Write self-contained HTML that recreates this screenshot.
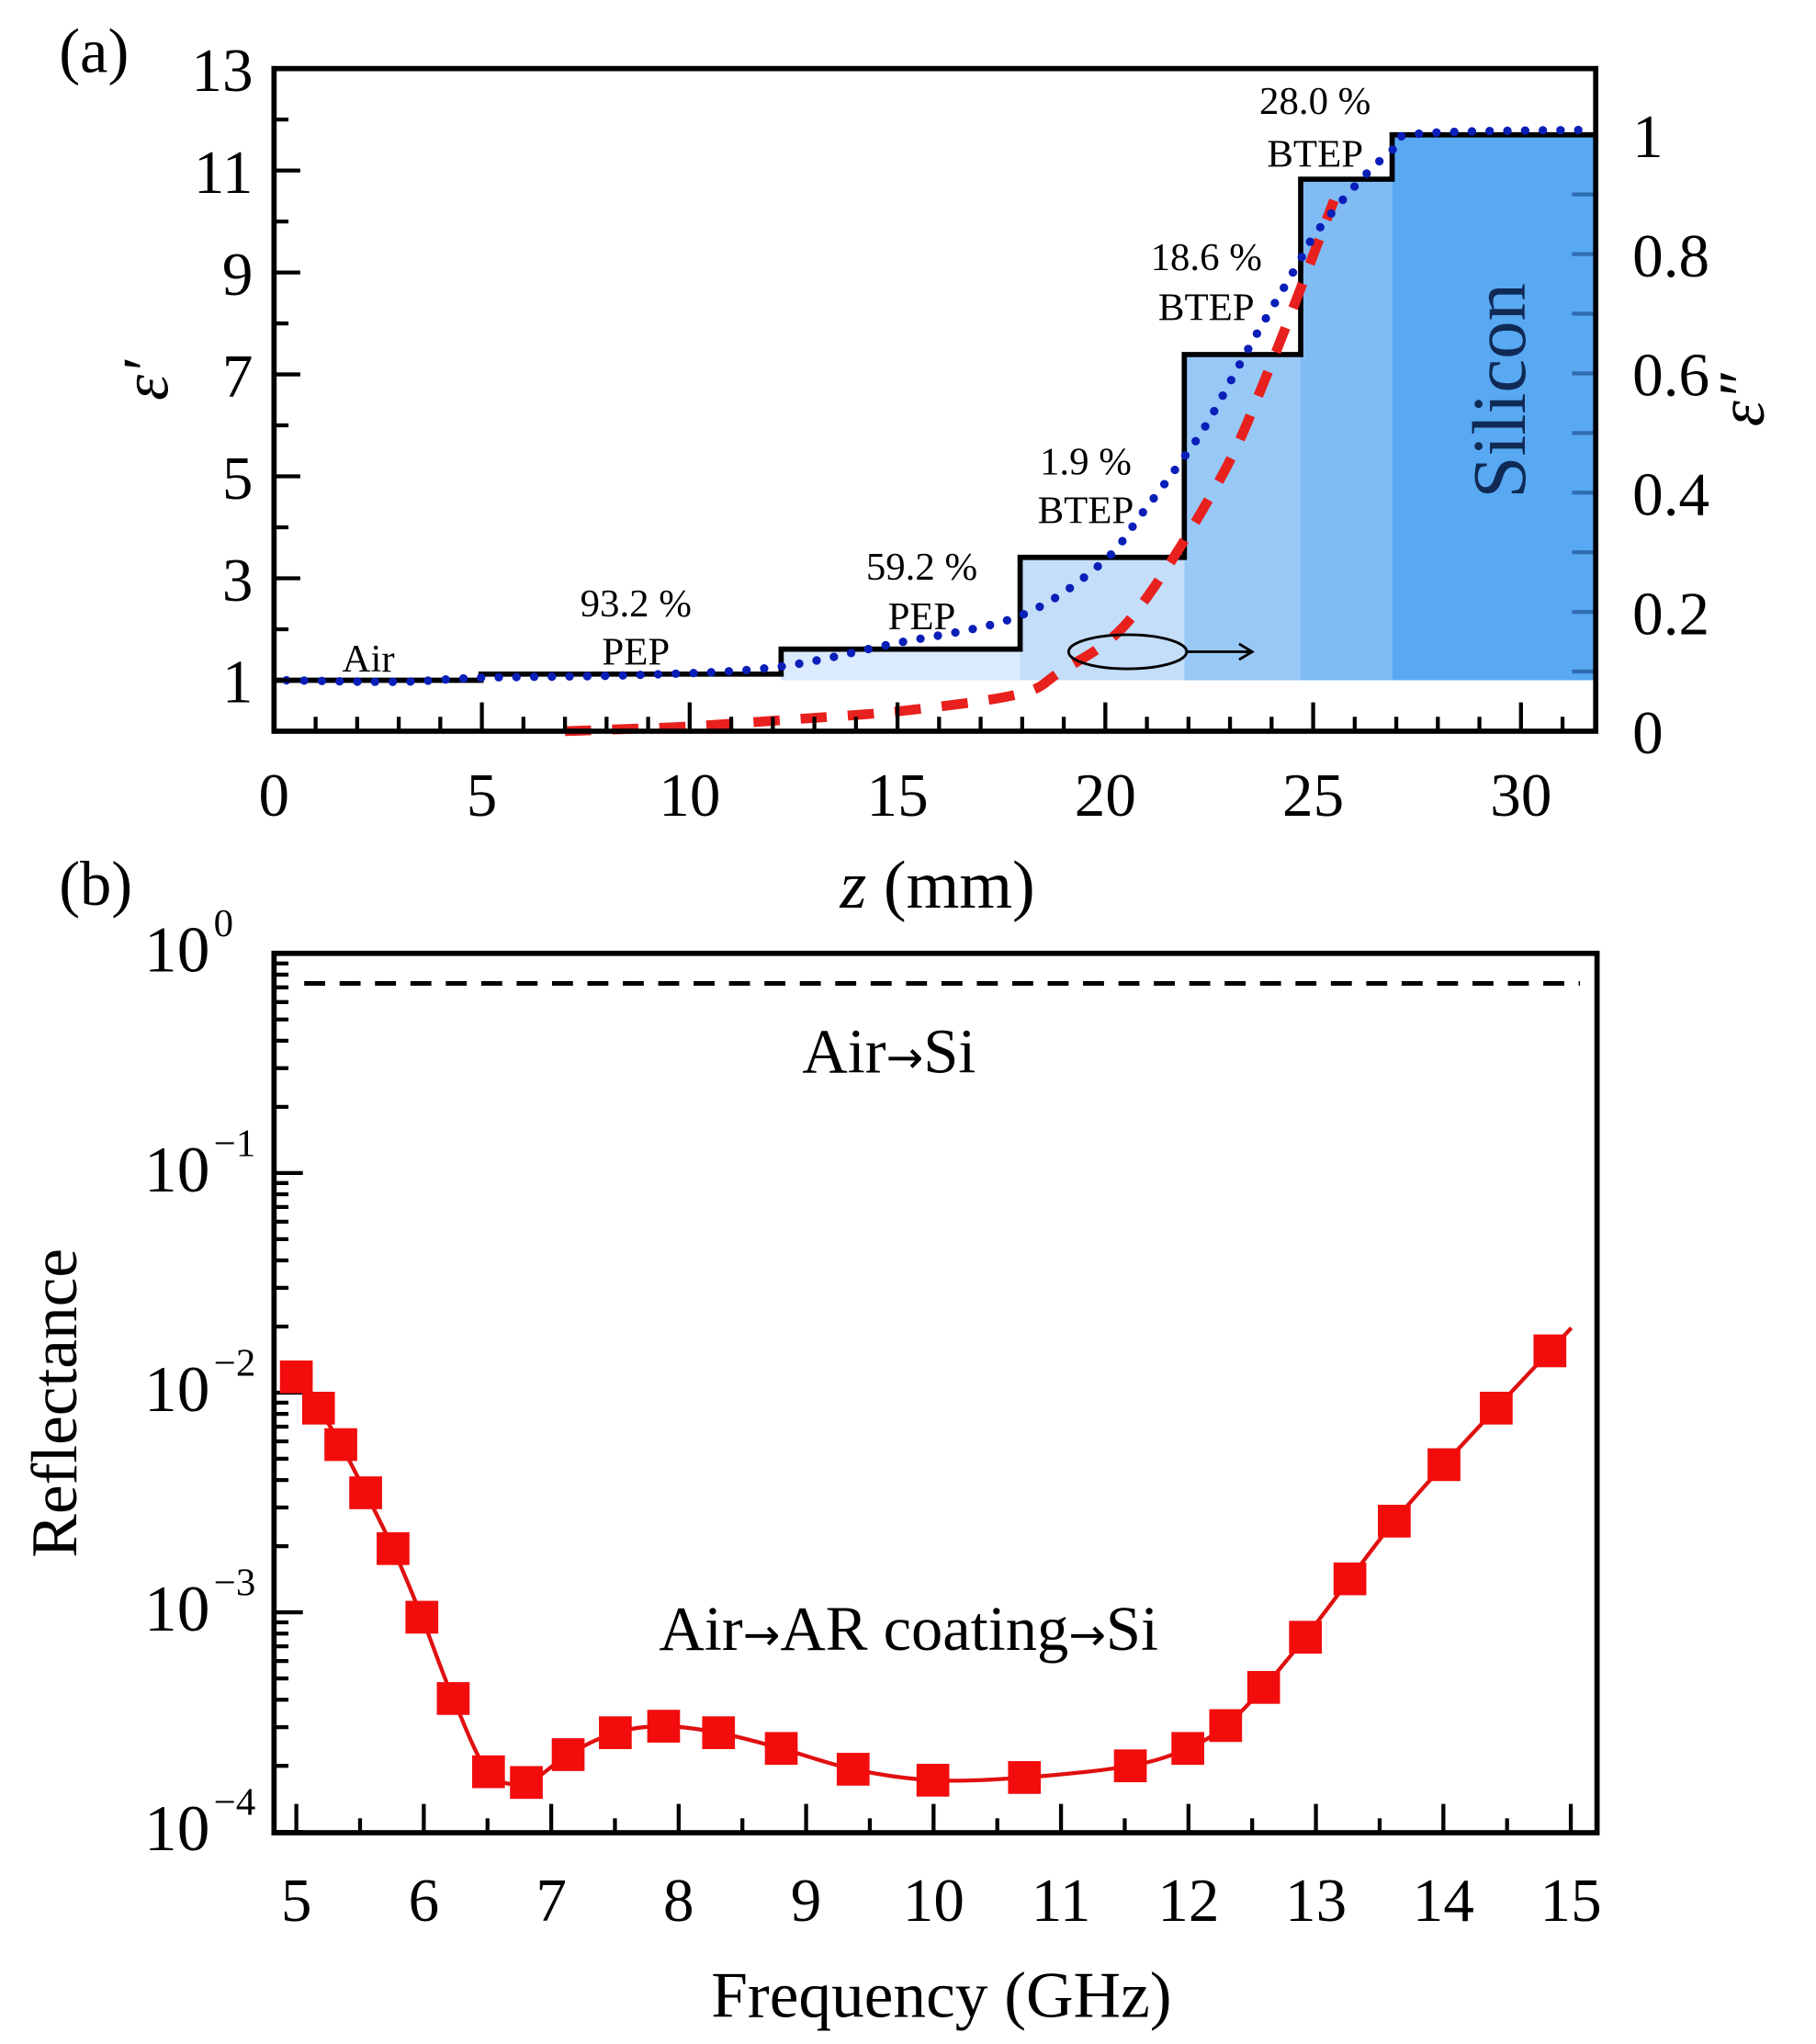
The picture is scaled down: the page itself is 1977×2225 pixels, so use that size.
<!DOCTYPE html>
<html><head><meta charset="utf-8"><style>
html,body{margin:0;padding:0;background:#fff;}
svg{display:block;font-family:"Liberation Serif",serif;}
</style></head><body>
<svg id="fig" width="1977" height="2225" viewBox="0 0 1385 1558.7" preserveAspectRatio="none" xmlns="http://www.w3.org/2000/svg">
<g id="pa"></g>
<g id="pb"></g>
</svg>
<script>
// ---- Panel (a) data ----
const stepZ = [0, 4.98, 12.2, 17.95, 21.9, 24.7, 26.9, 31.8];
const stepEps = [1.0, 1.12, 1.61, 3.41, 7.39, 10.83, 11.7];
const fillColors = ["none","none","#dbeafc","#c4def9","#98c8f6","#80bbf3","#58a8f2"];
const epsRealZ = [0.3, 3, 5, 8.6, 12, 14.8, 17.9, 19.9, 20.9, 21.9, 22.5, 23.5, 24.6, 25.1, 26.1, 26.9, 27.5, 31.8];
const epsRealV = [1.0, 0.97, 1.05, 1.1, 1.25, 1.7, 2.25, 3.29, 4.29, 5.38, 6.11, 7.59, 9.12, 9.81, 10.78, 11.4, 11.72, 11.8];
const epsImagZ = [7, 8.6, 10, 12.5, 15.1, 17.9, 18.9, 20.6, 22.7, 23.9, 25.5];
const epsImagV = [0, 0.004, 0.008, 0.02, 0.034, 0.062, 0.099, 0.188, 0.415, 0.60, 0.89];
const xTicksA = [0, 5, 10, 15, 20, 25, 30];
const yTicksL = [1, 3, 5, 7, 9, 11, 13];
const yTicksR = [0, 0.2, 0.4, 0.6, 0.8, 1];
const yTicksRLabels = ["0", "0.2", "0.4", "0.6", "0.8", "1"];
// ---- Panel (b) data ----
const freq = [5, 5.174, 5.349, 5.544, 5.759, 5.985, 6.231, 6.508, 6.805, 7.133, 7.503, 7.882, 8.313, 8.805, 9.369, 9.995, 10.713, 11.544, 11.995, 12.292, 12.59, 12.918, 13.267, 13.615, 14.005, 14.415, 14.836];
const refl = [0.0118, 0.0085, 0.0058, 0.0035, 0.00195, 0.00095, 0.000405, 0.000188, 0.000168, 0.000225, 0.000283, 0.000303, 0.000283, 0.00024, 0.000193, 0.000172, 0.000177, 0.0002, 0.00024, 0.000305, 0.000455, 0.00077, 0.00142, 0.0026, 0.0047, 0.0085, 0.0155];
const airSi = 0.73;
const xTicksB = [5, 6, 7, 8, 9, 10, 11, 12, 13, 14, 15];
const yDecades = [0, -1, -2, -3, -4];

const NS = "http://www.w3.org/2000/svg";
function mk(parent, tag, attrs, text) {
  const e = document.createElementNS(NS, tag);
  for (const k in attrs) e.setAttribute(k, attrs[k]);
  if (text !== undefined) e.textContent = text;
  parent.appendChild(e);
  return e;
}
function smooth(pts) {
  let d = "M" + pts[0][0] + "," + pts[0][1];
  for (let i = 0; i < pts.length - 1; i++) {
    const p0 = pts[i - 1] || pts[i], p1 = pts[i], p2 = pts[i + 1], p3 = pts[i + 2] || p2;
    const c1x = p1[0] + (p2[0] - p0[0]) / 6, c1y = p1[1] + (p2[1] - p0[1]) / 6;
    const c2x = p2[0] - (p3[0] - p1[0]) / 6, c2y = p2[1] - (p3[1] - p1[1]) / 6;
    d += " C" + c1x + "," + c1y + " " + c2x + "," + c2y + " " + p2[0] + "," + p2[1];
  }
  return d;
}

// ===== Panel A =====
const A = document.getElementById("pa");
const aL = 209, aR = 1217, aT = 52.3, aB = 557.6;
const xA = z => 209 + z * 31.7;
const yL = v => aB - v * 38.87;
const yR = v => aB - v * 454.8;

for (let i = 0; i < stepEps.length; i++) {
  if (fillColors[i] === "none") continue;
  const r = mk(A, "rect", {x: xA(stepZ[i]), y: yL(stepEps[i]), width: xA(Math.min(stepZ[i + 1], 31.77)) - xA(stepZ[i]), height: yL(1) - yL(stepEps[i]), fill: fillColors[i]});
  
  
}
for (let k = 0; k <= 10; k++) {
  const v = k / 10;
  const t = mk(A, "line", {x1: aR, x2: aR - 18, y1: yR(v), y2: yR(v), stroke: "#2f6cb0", "stroke-width": 3});
  
  
}
let sd = "";
for (let i = 0; i < stepEps.length; i++) {
  const x0 = xA(stepZ[i]), x1 = xA(Math.min(stepZ[i + 1], 31.77)), y = yL(stepEps[i]);
  sd += (i === 0 ? "M" : "L") + x0 + "," + y + " L" + x1 + "," + y + " ";
}
const step = mk(A, "path", {d: sd, fill: "none", stroke: "#000", "stroke-width": 4});


const rp = mk(A, "path", {d: smooth(epsImagZ.map((z, i) => [xA(z), yR(epsImagV[i])])), fill: "none", stroke: "#e8201e", "stroke-width": 7.5, "stroke-dasharray": "20 16"});


const bp = mk(A, "path", {d: smooth(epsRealZ.map((z, i) => [xA(z), yL(epsRealV[i])])), fill: "none", stroke: "#0a1fb8", "stroke-width": 6.5, "stroke-linecap": "round", "stroke-dasharray": "0 13.5"});


const el = mk(A, "ellipse", {cx: 860, cy: 497, rx: 45, ry: 13, fill: "none", stroke: "#000", "stroke-width": 2});


const ar = mk(A, "path", {d: "M905,497 L955,497 M945,491 L955,497 L945,503", fill: "none", stroke: "#000", "stroke-width": 2});


const fa = mk(A, "rect", {x: aL, y: aT, width: aR - aL, height: aB - aT, fill: "none", stroke: "#000", "stroke-width": 4});


for (let z = 0; z <= 31; z++) {
  const major = z % 5 === 0;
  const t = mk(A, "line", {x1: xA(z), x2: xA(z), y1: aB, y2: aB - (major ? 22 : 11), stroke: "#000", "stroke-width": 3});
  
  
}
xTicksA.forEach(z => {
  const t = mk(A, "text", {x: xA(z), y: 622, "font-size": 47, "text-anchor": "middle"}, String(z));
  
  
});
for (let v = 1; v <= 13; v++) {
  const major = v % 2 === 1;
  const t = mk(A, "line", {x1: aL, x2: aL + (major ? 20 : 11), y1: yL(v), y2: yL(v), stroke: "#000", "stroke-width": 3});
  
  
}
yTicksL.forEach(v => {
  const t = mk(A, "text", {x: 193, y: yL(v) + 17, "font-size": 47, "text-anchor": "end"}, String(v));
  
  
});
yTicksR.forEach((v, i) => {
  const t = mk(A, "text", {x: 1245, y: yR(v) + 17, "font-size": 47, "text-anchor": "start"}, yTicksRLabels[i]);
  
  
});
const ann = [["Air", 281, 512], ["93.2 %", 485, 470], ["PEP", 485, 507], ["59.2 %", 703, 442], ["PEP", 703, 480], ["1.9 %", 828, 362], ["BTEP", 828, 399], ["18.6 %", 920, 206], ["BTEP", 920, 244], ["28.0 %", 1003, 87], ["BTEP", 1003, 127]];
ann.forEach(a => {
  const t = mk(A, "text", {x: a[1], y: a[2], "font-size": 30, "text-anchor": "middle"}, a[0]);
  
  
});
const si = mk(A, "text", {x: 1163, y: 298, "font-size": 58, "text-anchor": "middle", fill: "#0f2a55", transform: "rotate(-90 1163 298)"}, "Silicon");


const pla = mk(A, "text", {x: 45, y: 55, "font-size": 48}, "(a)");


const yla = mk(A, "text", {x: 128, y: 290, "font-size": 50, "font-style": "italic", "text-anchor": "middle", transform: "rotate(-90 128 290)"}, "ε′");


const yra = mk(A, "text", {x: 1345, y: 305, "font-size": 50, "font-style": "italic", "text-anchor": "middle", transform: "rotate(-90 1345 305)"}, "ε″");


const xta = mk(A, "text", {x: 715, y: 692, "font-size": 52, "text-anchor": "middle"});


mk(xta, "tspan", {"font-style": "italic"}, "z");
mk(xta, "tspan", {}, " (mm)");

// ===== Panel B =====
const B = document.getElementById("pb");
const bL = 209, bR = 1218, bT = 727, bB = 1397.6;
const xB = f => 226 + (f - 5) * 97.2;
function yLog(v) { return 727 - Math.log10(v) * 167.5; }

const fb = mk(B, "rect", {x: bL, y: bT, width: bR - bL, height: bB - bT, fill: "none", stroke: "#000", "stroke-width": 4});


for (let k = 0; k <= 20; k++) {
  const f = 5 + k / 2;
  const major = k % 2 === 0;
  const t = mk(B, "line", {x1: xB(f), x2: xB(f), y1: bB, y2: bB - (major ? 22 : 11), stroke: "#000", "stroke-width": 3});
  
  
}
xTicksB.forEach(f => {
  const t = mk(B, "text", {x: xB(f), y: 1465, "font-size": 47, "text-anchor": "middle"}, String(f));
  
  
});
for (let d = -4; d < 0; d++) {
  for (let m = 1; m <= 9; m++) {
    const v = m * Math.pow(10, d);
    const t = mk(B, "line", {x1: bL, x2: bL + (m === 1 ? 22 : 11), y1: yLog(v), y2: yLog(v), stroke: "#000", "stroke-width": 3});
    
    
  }
}
yDecades.forEach(d => {
  const t = mk(B, "text", {x: 160, y: yLog(Math.pow(10, d)) + 14, "font-size": 50, "text-anchor": "end"}, "10");
  
  
  const s = mk(B, "text", {x: 163, y: yLog(Math.pow(10, d)) - 13, "font-size": 30, "text-anchor": "start"}, d === 0 ? "0" : "−" + (-d));
  
  
});
const dl = mk(B, "line", {x1: 232, x2: 1205, y1: yLog(airSi), y2: yLog(airSi), stroke: "#000", "stroke-width": 3.5, "stroke-dasharray": "16 11"});


const pts = freq.map((f, i) => [xB(f), yLog(refl[i])]);
const n = pts.length;
const ext = [pts[n - 1][0] + (pts[n - 1][0] - pts[n - 2][0]) * 0.4, pts[n - 1][1] + (pts[n - 1][1] - pts[n - 2][1]) * 0.4];
const rc = mk(B, "path", {d: smooth(pts.concat([ext])), fill: "none", stroke: "#e01010", "stroke-width": 3});


pts.forEach(p => {
  const m = mk(B, "rect", {x: p[0] - 12.5, y: p[1] - 12.5, width: 25, height: 25, fill: "#f20c0c"});
  
  
});
const t1 = mk(B, "text", {x: 678, y: 818, "font-size": 48, "text-anchor": "middle"});


mk(t1, "tspan", {}, "Air");
mk(t1, "tspan", {"font-family": "DejaVu Sans, sans-serif", "font-size": 34}, "→");
mk(t1, "tspan", {}, "Si");
const t2 = mk(B, "text", {x: 693, y: 1258, "font-size": 48, "text-anchor": "middle"});


mk(t2, "tspan", {}, "Air");
mk(t2, "tspan", {"font-family": "DejaVu Sans, sans-serif", "font-size": 34}, "→");
mk(t2, "tspan", {}, "AR coating");
mk(t2, "tspan", {"font-family": "DejaVu Sans, sans-serif", "font-size": 34}, "→");
mk(t2, "tspan", {}, "Si");
const plb = mk(B, "text", {x: 45, y: 690, "font-size": 48}, "(b)");


const ylb = mk(B, "text", {x: 58, y: 1070, "font-size": 50, "text-anchor": "middle", transform: "rotate(-90 58 1070)"}, "Reflectance");


const xtb = mk(B, "text", {x: 718, y: 1538, "font-size": 50, "text-anchor": "middle"}, "Frequency (GHz)");


</script>
</body></html>
